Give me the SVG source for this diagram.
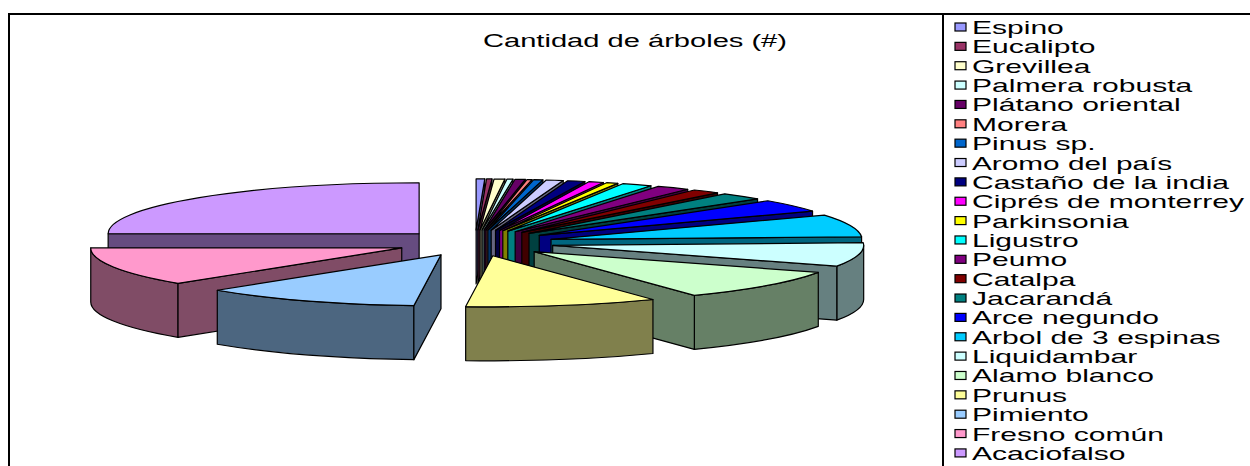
<svg xmlns="http://www.w3.org/2000/svg" width="1250" height="466" viewBox="0 0 1250 466">
<style>
.e{stroke:#000;stroke-width:1.2;stroke-linejoin:round}
.k{stroke:#000;stroke-width:1.2}
.t{font-family:"Liberation Sans",Arial,sans-serif;font-size:19px;fill:#000}
.ttl{font-family:"Liberation Sans",Arial,sans-serif;font-size:18px;fill:#000}
.fr{fill:none;stroke:#000;stroke-width:2}
</style>
<rect x="0" y="0" width="1250" height="466" fill="#fff"/>
<path class="fr" d="M9,466 L9,14 L1250,14 M943,14 L943,466"/>
<text class="ttl" x="483" y="47" textLength="304" lengthAdjust="spacingAndGlyphs">Cantidad de árboles (#)</text>
<g id="pie">
<g id="s-espino" class="e"><path fill="#4C4C80" d="M476.1,229.9 L484.78,178.92 L484.78,232.92 L476.1,283.9 Z"/><path fill="#9999FF" d="M476.1,229.9 L476.1,178.9 A311,51 0 0 1 484.78,178.92 Z"/></g>
<g id="s-eucalipto" class="e"><path fill="#4C1933" d="M477.89,229.91 L492,178.96 L492,232.96 L477.89,283.91 Z"/><path fill="#993366" d="M477.89,229.91 L486.57,178.93 A311,51 0 0 1 492,178.96 Z"/></g>
<g id="s-grevillea" class="e"><path fill="#808066" d="M479.96,229.93 L504.9,179.09 L504.9,233.09 L479.96,283.93 Z"/><path fill="#FFFFCC" d="M479.96,229.93 L494.07,178.98 A311,51 0 0 1 504.9,179.09 Z"/></g>
<g id="s-palmera" class="e"><path fill="#668080" d="M482.09,229.95 L512.98,179.2 L512.98,233.2 L482.09,283.95 Z"/><path fill="#CCFFFF" d="M482.09,229.95 L507.03,179.11 A311,51 0 0 1 512.98,179.2 Z"/></g>
<g id="s-platano" class="e"><path fill="#330033" d="M484.15,229.99 L525.28,179.44 L525.28,233.44 L484.15,283.99 Z"/><path fill="#660066" d="M484.15,229.99 L515.04,179.24 A311,51 0 0 1 525.28,179.44 Z"/></g>
<g id="s-morera" class="e"><path fill="#804040" d="M486.06,230.03 L532.03,179.59 L532.03,233.59 L486.06,284.03 Z"/><path fill="#FF8080" d="M486.06,230.03 L527.19,179.48 A311,51 0 0 1 532.03,179.59 Z"/></g>
<g id="s-pinus" class="e"><path fill="#003366" d="M487.83,230.07 L542.9,179.88 L542.9,233.88 L487.83,284.07 Z"/><path fill="#0066CC" d="M487.83,230.07 L533.8,179.63 A311,51 0 0 1 542.9,179.88 Z"/></g>
<g id="s-aromo" class="e"><path fill="#666680" d="M491.16,230.18 L563.23,180.57 L563.23,234.57 L491.16,284.18 Z"/><path fill="#CCCCFF" d="M491.16,230.18 L546.23,179.99 A311,51 0 0 1 563.23,180.57 Z"/></g>
<g id="s-castano" class="e"><path fill="#000040" d="M495.51,230.35 L584.88,181.5 L584.88,235.5 L495.51,284.35 Z"/><path fill="#000080" d="M495.51,230.35 L567.58,180.74 A311,51 0 0 1 584.88,181.5 Z"/></g>
<g id="s-cipres" class="e"><path fill="#800080" d="M499.54,230.55 L603.35,182.48 L603.35,236.48 L499.54,284.55 Z"/><path fill="#FF00FF" d="M499.54,230.55 L588.91,181.7 A311,51 0 0 1 603.35,182.48 Z"/></g>
<g id="s-parkinsonia" class="e"><path fill="#808000" d="M502.8,230.74 L617.79,183.35 L617.79,237.35 L502.8,284.74 Z"/><path fill="#FFFF00" d="M502.8,230.74 L606.61,182.67 A311,51 0 0 1 617.79,183.35 Z"/></g>
<g id="s-ligustro" class="e"><path fill="#008080" d="M507.82,231.08 L650.94,185.8 L650.94,239.8 L507.82,285.08 Z"/><path fill="#00FFFF" d="M507.82,231.08 L622.81,183.69 A311,51 0 0 1 650.94,185.8 Z"/></g>
<g id="s-peumo" class="e"><path fill="#400040" d="M515.16,231.72 L687.72,189.29 L687.72,243.29 L515.16,285.72 Z"/><path fill="#800080" d="M515.16,231.72 L658.28,186.44 A311,51 0 0 1 687.72,189.29 Z"/></g>
<g id="s-catalpa" class="e"><path fill="#400000" d="M521.81,232.45 L717.53,192.82 L717.53,246.82 L521.81,286.45 Z"/><path fill="#800000" d="M521.81,232.45 L694.37,190.02 A311,51 0 0 1 717.53,192.82 Z"/></g>
<g id="s-jacaranda" class="e"><path fill="#004040" d="M529.01,233.44 L757.57,198.85 L757.57,252.85 L529.01,287.44 Z"/><path fill="#008080" d="M529.01,233.44 L724.73,193.81 A311,51 0 0 1 757.57,198.85 Z"/></g>
<g id="s-arce" class="e"><path fill="#000080" d="M539.23,235.37 L812.54,211.03 L812.54,265.03 L539.23,289.37 Z"/><path fill="#0000FF" d="M539.23,235.37 L767.79,200.78 A311,51 0 0 1 812.54,211.03 Z"/></g>
<g id="s-arbol" class="e"><path fill="#006680" d="M551.03,239.44 L861.6,236.77 L861.6,290.77 L551.03,293.44 Z"/><path fill="#00CCFF" d="M551.03,239.44 L824.34,215.1 A311,51 0 0 1 861.6,236.77 Z"/></g>
<g id="s-liquidambar" class="e"><path fill="#668080" d="M863.68,245.39 A311,51 0 0 1 836.79,266.13 L836.79,320.13 A311,51 0 0 0 863.68,299.39 Z"/><path fill="#668080" d="M552.68,245.39 L836.79,266.13 L836.79,320.13 L552.68,299.39 Z"/><path fill="#CCFFFF" d="M552.68,245.39 L863.25,242.72 A311,51 0 0 1 836.79,266.13 Z"/></g>
<g id="s-alamo" class="e"><path fill="#668066" d="M818.28,272.42 A311,51 0 0 1 694.35,295.4 L694.35,349.4 A311,51 0 0 0 818.28,326.42 Z"/><path fill="#668066" d="M534.17,251.68 L694.35,295.4 L694.35,349.4 L534.17,305.68 Z"/><path fill="#CCFFCC" d="M534.17,251.68 L818.28,272.42 A311,51 0 0 1 694.35,295.4 Z"/></g>
<g id="s-acaciofalso" class="e"><path fill="#664C80" d="M419.14,233.74 L108.14,233.74 L108.14,287.74 L419.14,287.74 Z"/><path fill="#CC99FF" d="M419.14,233.74 L108.14,233.74 A311,51 0 0 1 419.14,182.74 Z"/></g>
<g id="s-fresno" class="e"><path fill="#804C66" d="M178.04,283.34 A311,51 0 0 1 90.75,247.91 L90.75,301.91 A311,51 0 0 0 178.04,337.34 Z"/><path fill="#804C66" d="M401.75,247.91 L178.04,283.34 L178.04,337.34 L401.75,301.91 Z"/><path fill="#FF99CC" d="M401.75,247.91 L178.04,283.34 A311,51 0 0 1 90.75,247.91 Z"/></g>
<g id="s-pimiento" class="e"><path fill="#4C6680" d="M413.88,305.63 A311,51 0 0 1 217.28,290.25 L217.28,344.25 A311,51 0 0 0 413.88,359.63 Z"/><path fill="#4C6680" d="M440.99,254.82 L413.88,305.63 L413.88,359.63 L440.99,308.82 Z"/><path fill="#99CCFF" d="M440.99,254.82 L413.88,305.63 A311,51 0 0 1 217.28,290.25 Z"/></g>
<g id="s-prunus" class="e"><path fill="#80804C" d="M652.95,299.48 A311,51 0 0 1 465.66,306.57 L465.66,360.57 A311,51 0 0 0 652.95,353.48 Z"/><path fill="#FFFF99" d="M492.77,255.76 L652.95,299.48 A311,51 0 0 1 465.66,306.57 Z"/></g>
</g>
<g id="legend">
<g id="l1"><rect class="k" x="955" y="23" width="11" height="8" fill="#9999FF"/><text class="t" x="972" y="34" textLength="91.8" lengthAdjust="spacingAndGlyphs">Espino</text></g>
<g id="l2"><rect class="k" x="955" y="42.36" width="11" height="8" fill="#993366"/><text class="t" x="972" y="53.36" textLength="123.5" lengthAdjust="spacingAndGlyphs">Eucalipto</text></g>
<g id="l3"><rect class="k" x="955" y="61.72" width="11" height="8" fill="#FFFFCC"/><text class="t" x="972" y="72.72" textLength="118.4" lengthAdjust="spacingAndGlyphs">Grevillea</text></g>
<g id="l4"><rect class="k" x="955" y="81.08" width="11" height="8" fill="#CCFFFF"/><text class="t" x="972" y="92.08" textLength="220.2" lengthAdjust="spacingAndGlyphs">Palmera robusta</text></g>
<g id="l5"><rect class="k" x="955" y="100.44" width="11" height="8" fill="#660066"/><text class="t" x="972" y="111.44" textLength="208.6" lengthAdjust="spacingAndGlyphs">Plátano oriental</text></g>
<g id="l6"><rect class="k" x="955" y="119.8" width="11" height="8" fill="#FF8080"/><text class="t" x="972" y="130.8" textLength="95.1" lengthAdjust="spacingAndGlyphs">Morera</text></g>
<g id="l7"><rect class="k" x="955" y="139.16" width="11" height="8" fill="#0066CC"/><text class="t" x="972" y="150.16" textLength="123.5" lengthAdjust="spacingAndGlyphs">Pinus sp.</text></g>
<g id="l8"><rect class="k" x="955" y="158.52" width="11" height="8" fill="#CCCCFF"/><text class="t" x="972" y="169.52" textLength="200.2" lengthAdjust="spacingAndGlyphs">Aromo del país</text></g>
<g id="l9"><rect class="k" x="955" y="177.88" width="11" height="8" fill="#000080"/><text class="t" x="972" y="188.88" textLength="257" lengthAdjust="spacingAndGlyphs">Castaño de la india</text></g>
<g id="l10"><rect class="k" x="955" y="197.24" width="11" height="8" fill="#FF00FF"/><text class="t" x="972" y="208.24" textLength="271.9" lengthAdjust="spacingAndGlyphs">Ciprés de monterrey</text></g>
<g id="l11"><rect class="k" x="955" y="216.6" width="11" height="8" fill="#FFFF00"/><text class="t" x="972" y="227.6" textLength="156.8" lengthAdjust="spacingAndGlyphs">Parkinsonia</text></g>
<g id="l12"><rect class="k" x="955" y="235.96" width="11" height="8" fill="#00FFFF"/><text class="t" x="972" y="246.96" textLength="106.8" lengthAdjust="spacingAndGlyphs">Ligustro</text></g>
<g id="l13"><rect class="k" x="955" y="255.32" width="11" height="8" fill="#800080"/><text class="t" x="972" y="266.32" textLength="95.1" lengthAdjust="spacingAndGlyphs">Peumo</text></g>
<g id="l14"><rect class="k" x="955" y="274.68" width="11" height="8" fill="#800000"/><text class="t" x="972" y="285.68" textLength="103.4" lengthAdjust="spacingAndGlyphs">Catalpa</text></g>
<g id="l15"><rect class="k" x="955" y="294.04" width="11" height="8" fill="#008080"/><text class="t" x="972" y="305.04" textLength="140.2" lengthAdjust="spacingAndGlyphs">Jacarandá</text></g>
<g id="l16"><rect class="k" x="955" y="313.4" width="11" height="8" fill="#0000FF"/><text class="t" x="972" y="324.4" textLength="186.9" lengthAdjust="spacingAndGlyphs">Arce negundo</text></g>
<g id="l17"><rect class="k" x="955" y="332.76" width="11" height="8" fill="#00CCFF"/><text class="t" x="972" y="343.76" textLength="248.6" lengthAdjust="spacingAndGlyphs">Arbol de 3 espinas</text></g>
<g id="l18"><rect class="k" x="955" y="352.12" width="11" height="8" fill="#CCFFFF"/><text class="t" x="972" y="363.12" textLength="165.2" lengthAdjust="spacingAndGlyphs">Liquidambar</text></g>
<g id="l19"><rect class="k" x="955" y="371.48" width="11" height="8" fill="#CCFFCC"/><text class="t" x="972" y="382.48" textLength="181.9" lengthAdjust="spacingAndGlyphs">Alamo blanco</text></g>
<g id="l20"><rect class="k" x="955" y="390.84" width="11" height="8" fill="#FFFF99"/><text class="t" x="972" y="401.84" textLength="95.1" lengthAdjust="spacingAndGlyphs">Prunus</text></g>
<g id="l21"><rect class="k" x="955" y="410.2" width="11" height="8" fill="#99CCFF"/><text class="t" x="972" y="421.2" textLength="116.8" lengthAdjust="spacingAndGlyphs">Pimiento</text></g>
<g id="l22"><rect class="k" x="955" y="429.56" width="11" height="8" fill="#FF99CC"/><text class="t" x="972" y="440.56" textLength="191.9" lengthAdjust="spacingAndGlyphs">Fresno común</text></g>
<g id="l23"><rect class="k" x="955" y="448.92" width="11" height="8" fill="#CC99FF"/><text class="t" x="972" y="459.92" textLength="153.5" lengthAdjust="spacingAndGlyphs">Acaciofalso</text></g>
</g>
</svg>
